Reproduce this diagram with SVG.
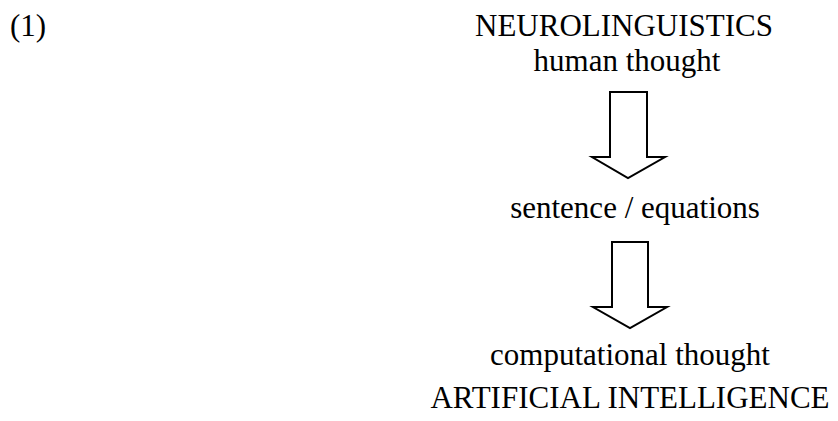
<svg xmlns="http://www.w3.org/2000/svg" width="838" height="421" viewBox="0 0 838 421">
<style>
  text { font-family: "Liberation Serif", "Times New Roman", serif; font-size: 31px; fill: #000; }
  .c { text-anchor: middle; }
  .arrow { fill: #fff; stroke: #000; stroke-width: 2; stroke-linejoin: miter; }
</style>
<rect width="838" height="421" fill="#fff"/>
<g id="label-1"><text x="10" y="36">(1)</text></g>
<g id="node-neurolinguistics">
  <text class="c" x="624" y="36">NEUROLINGUISTICS</text>
  <text class="c" x="627" y="71">human thought</text>
</g>
<g id="node-sentence"><text class="c" x="635" y="218">sentence / equations</text></g>
<g id="node-computational">
  <text class="c" x="630" y="365">computational thought</text>
  <text class="c" x="630" y="408">ARTIFICIAL INTELLIGENCE</text>
</g>
<g id="connectors">
  <path class="arrow" d="M610,92 H647 V157 H665 L628,178 L592,157 H610 Z"/>
  <path class="arrow" d="M612,242 H648 V307 H667 L630,328 L593,307 H612 Z"/>
</g>
</svg>
